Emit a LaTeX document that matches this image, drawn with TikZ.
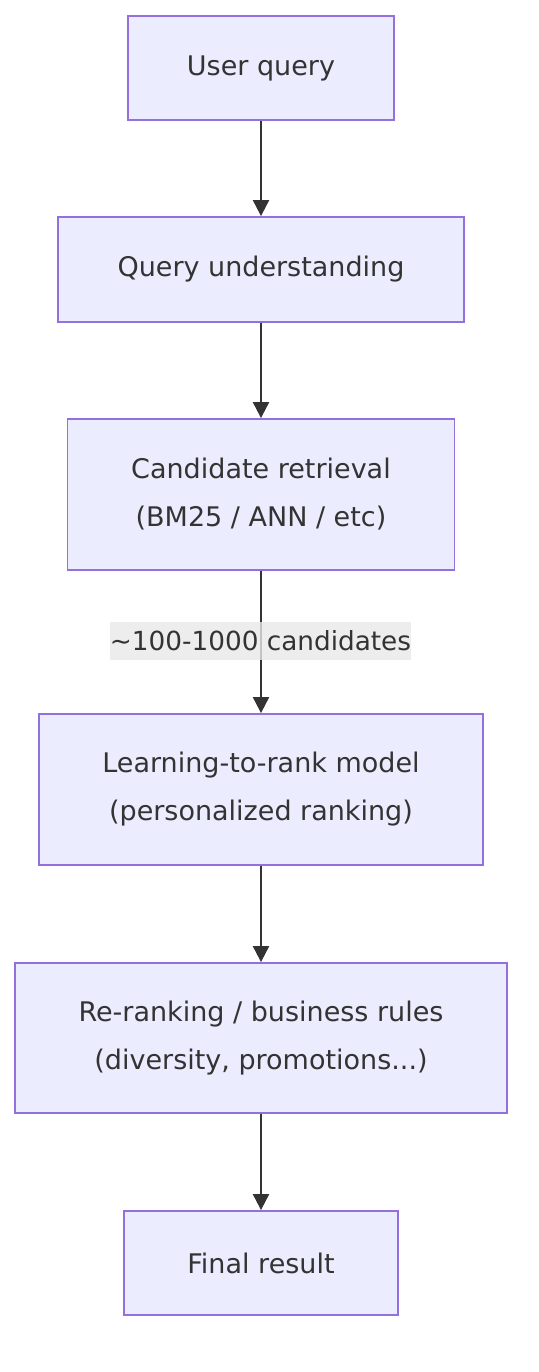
\documentclass[tikz,border=0pt]{standalone}
\usepackage{fontspec}
\setmainfont{DejaVu Sans}
\usetikzlibrary{arrows.meta}
\definecolor{boxfill}{HTML}{ECECFF}
\definecolor{boxdraw}{HTML}{9370DB}
\definecolor{txt}{HTML}{333333}
\definecolor{lblbg}{HTML}{E8E8E8}
\begin{document}
\begin{tikzpicture}[x=1pt,y=-1pt,
  flowbox/.style={draw=boxdraw,fill=boxfill,line width=1.8pt,text=txt,align=center,inner sep=0pt,
    font=\fontsize{27pt}{48pt}\selectfont},
  conn/.style={draw=txt,line width=2pt,-{Triangle[length=16pt,width=16pt]}},
  lbl/.style={fill=lblbg,fill opacity=0.8,text opacity=1,text=txt,inner sep=0pt,minimum width=301pt,minimum height=38pt,
    font=\fontsize{26.3pt}{32pt}\selectfont}]
\useasboundingbox (0,0) rectangle (538,1372);
\node[flowbox,minimum width=266pt,minimum height=104pt] (a) at (261,68) {User query};
\node[flowbox,minimum width=406pt,minimum height=105pt] (b) at (261,269.5) {Query understanding};
\node[flowbox,minimum width=387pt,minimum height=151pt] (c) at (261,494.5) {Candidate retrieval\\(BM25 / ANN / etc)};
\node[flowbox,minimum width=444pt,minimum height=151pt] (d) at (261,789.5) {Learning-to-rank model\\(personalized ranking)};
\node[flowbox,minimum width=492pt,minimum height=150pt] (e) at (261,1038) {Re-ranking / business rules\\(diversity, promotions...)};
\node[flowbox,minimum width=274pt,minimum height=104pt] (f) at (261,1263) {Final result};
\draw[conn] (a.south) -- (a.south |- b.north);
\draw[conn] (b.south) -- (b.south |- c.north);
\draw[conn] (c.south) -- (c.south |- d.north);
\draw[conn] (d.south) -- (d.south |- e.north);
\draw[conn] (e.south) -- (e.south |- f.north);
\node[lbl] (l) at (260.5,641) {\textasciitilde100-1000 candidates};
\end{tikzpicture}
\end{document}
